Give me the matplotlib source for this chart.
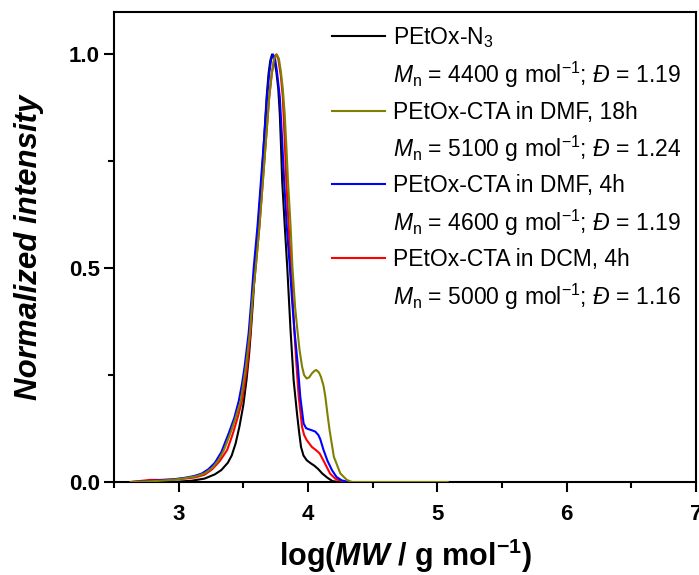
import matplotlib
matplotlib.use('Agg')
from matplotlib import pyplot as plt
from matplotlib.lines import Line2D
from matplotlib.ticker import MultipleLocator, FormatStrFormatter

plt.rcParams['font.family'] = ['Liberation Sans', 'DejaVu Sans']
plt.rcParams['mathtext.fontset'] = 'custom'
plt.rcParams['mathtext.rm'] = 'Liberation Sans'
plt.rcParams['mathtext.it'] = 'Liberation Sans:italic'
plt.rcParams['mathtext.bf'] = 'Liberation Sans:bold'
plt.rcParams['mathtext.bfit'] = 'Liberation Sans:bold:italic'

# values (log MW, normalized intensity)
n3_x = [2.90, 3.00, 3.10, 3.20, 3.28, 3.33, 3.38, 3.41, 3.44, 3.47, 3.50, 3.525,
        3.545, 3.56, 3.575, 3.59, 3.615, 3.64, 3.66, 3.68, 3.695, 3.708, 3.722, 3.738,
        3.755, 3.77, 3.782, 3.792, 3.80, 3.82, 3.84, 3.865, 3.889, 3.915, 3.932, 3.946,
        3.965, 3.99, 4.02, 4.05, 4.08, 4.11, 4.15, 4.19, 4.25]
n3_y = [0.0, 0.001, 0.003, 0.008, 0.018, 0.028, 0.045, 0.062, 0.09, 0.13, 0.18, 0.24,
        0.30, 0.36, 0.425, 0.5, 0.6, 0.7, 0.8, 0.9, 0.955, 0.985, 1.0, 0.99,
        0.96, 0.92, 0.86, 0.78, 0.706, 0.6, 0.5, 0.355, 0.238, 0.16, 0.115, 0.082,
        0.062, 0.051, 0.044, 0.038, 0.03, 0.02, 0.01, 0.002, 0.0]

dmf18_x = [2.63, 2.80, 2.95, 3.05, 3.13, 3.20, 3.26, 3.31, 3.35, 3.40, 3.44, 3.48,
           3.52, 3.55, 3.57, 3.595, 3.625, 3.65, 3.675, 3.70, 3.72, 3.738, 3.758, 3.775,
           3.79, 3.805, 3.82, 3.832, 3.845, 3.865, 3.88, 3.90, 3.918, 3.935, 3.954, 3.97,
           3.99, 4.01, 4.03, 4.05, 4.064, 4.085, 4.10, 4.12, 4.134, 4.15, 4.167, 4.20,
           4.25, 4.30, 4.34, 5.08]
dmf18_y = [0.0, 0.002, 0.005, 0.009, 0.013, 0.02, 0.033, 0.052, 0.075, 0.114, 0.15, 0.19,
           0.27, 0.348, 0.425, 0.5, 0.6, 0.7, 0.8, 0.9, 0.955, 0.99, 1.0, 0.99,
           0.96, 0.92, 0.86, 0.79, 0.706, 0.6, 0.5, 0.41, 0.355, 0.308, 0.27, 0.25,
           0.242, 0.245, 0.254, 0.26, 0.262, 0.256, 0.246, 0.225, 0.2, 0.16, 0.121, 0.059,
           0.02, 0.005, 0.0, 0.0]

dmf4_x = [2.63, 2.80, 2.95, 3.05, 3.12, 3.18, 3.23, 3.28, 3.33, 3.387, 3.43, 3.465,
          3.49, 3.51, 3.541, 3.562, 3.58, 3.61, 3.635, 3.66, 3.683, 3.70, 3.715, 3.73,
          3.745, 3.76, 3.782, 3.80, 3.815, 3.835, 3.86, 3.878, 3.895, 3.92, 3.94, 3.966,
          3.985, 4.0, 4.03, 4.056, 4.08, 4.095, 4.12, 4.15, 4.185, 4.22, 4.26, 4.31]
dmf4_y = [0.0, 0.003, 0.006, 0.01, 0.014, 0.02, 0.03, 0.045, 0.07, 0.114, 0.15, 0.19,
          0.23, 0.27, 0.348, 0.425, 0.5, 0.6, 0.7, 0.8, 0.9, 0.955, 0.988, 1.0,
          0.99, 0.96, 0.9, 0.8, 0.706, 0.6, 0.5, 0.42, 0.355, 0.277, 0.2, 0.137,
          0.126, 0.124, 0.121, 0.118, 0.11, 0.1, 0.075, 0.05, 0.028, 0.012, 0.004, 0.0]

dcm4_x = [2.63, 2.72, 2.78, 2.85, 2.95, 3.05, 3.13, 3.20, 3.26, 3.32, 3.375, 3.42,
          3.455, 3.49, 3.53, 3.555, 3.57, 3.595, 3.625, 3.65, 3.675, 3.70, 3.72, 3.74,
          3.755, 3.77, 3.79, 3.805, 3.82, 3.832, 3.85, 3.87, 3.894, 3.91, 3.928, 3.954,
          3.97, 3.99, 4.03, 4.06, 4.09, 4.13, 4.17, 4.21, 4.24, 4.30]
dcm4_y = [0.0, 0.003, 0.005, 0.005, 0.006, 0.008, 0.011, 0.017, 0.03, 0.05, 0.075, 0.114,
          0.15, 0.19, 0.27, 0.348, 0.425, 0.5, 0.6, 0.7, 0.8, 0.9, 0.955, 0.99,
          1.0, 0.99, 0.95, 0.9, 0.8, 0.706, 0.6, 0.5, 0.355, 0.277, 0.2, 0.129,
          0.11, 0.098, 0.082, 0.075, 0.067, 0.044, 0.02, 0.008, 0.004, 0.0]

names = ['PEtOx-N$_3$', 'PEtOx-CTA in DMF, 18h', 'PEtOx-CTA in DMF, 4h', 'PEtOx-CTA in DCM, 4h']
mn = [4400, 5100, 4600, 5000]
disp = [1.19, 1.24, 1.19, 1.16]
colors = ['black', '#808000', '#0000ff', '#ff0000']

fig = plt.figure(figsize=(6.99, 5.75), dpi=100)
ax = fig.add_axes([0.1631, 0.1617, 0.8326, 0.818])

series = [(n3_x, n3_y), (dmf18_x, dmf18_y), (dmf4_x, dmf4_y), (dcm4_x, dcm4_y)]
zord = [2, 5, 4, 3]
lines = []
for (xs, ys), c, z in zip(series, colors, zord):
    ln, = ax.plot(xs, ys, color=c, lw=1.5, zorder=z, solid_joinstyle='round')
    lines.append(ln)

handles = []
labels = []
blank = Line2D([], [], color='none')
for ln, name, m, d in zip(lines, names, mn, disp):
    handles += [ln, blank]
    labels += [name, r'$M_\mathrm{n}$ = %d g mol$^{-1}$; $Đ$ = %.2f' % (m, d)]

ax.legend(handles, labels, loc='upper left', bbox_to_anchor=(0.375, 0.972),
          frameon=False, fontsize=16.5, handlelength=2.3, handletextpad=0.35,
          borderpad=0, borderaxespad=0, labelspacing=0.45)

ax.set_xlim(2.5, 7)
ax.set_ylim(0, 1.1)
ax.xaxis.set_major_locator(MultipleLocator(1))
ax.xaxis.set_minor_locator(MultipleLocator(0.5))
ax.yaxis.set_major_locator(MultipleLocator(0.5))
ax.yaxis.set_minor_locator(MultipleLocator(0.25))
ax.yaxis.set_major_formatter(FormatStrFormatter('%.1f'))

for s in ax.spines.values():
    s.set_linewidth(1.5)
ax.tick_params(which='major', direction='out', length=7, width=1.5, labelsize=16)
ax.tick_params(which='minor', direction='out', length=4.5, width=1.5)
ax.tick_params(axis='x', which='major', pad=9)
ax.tick_params(axis='y', which='major', pad=3)
for lab in ax.get_xticklabels() + ax.get_yticklabels():
    lab.set_fontweight('bold')

ax.set_xlabel(r'log($\mathbfit{MW}$ / g mol$^{\mathbf{-1}}$)', fontsize=22,
              fontweight='bold', labelpad=8)
ax.set_ylabel('Normalized intensity', fontsize=22.5, fontweight='bold',
              fontstyle='italic', labelpad=18)

fig.savefig('out.png', dpi=100)
